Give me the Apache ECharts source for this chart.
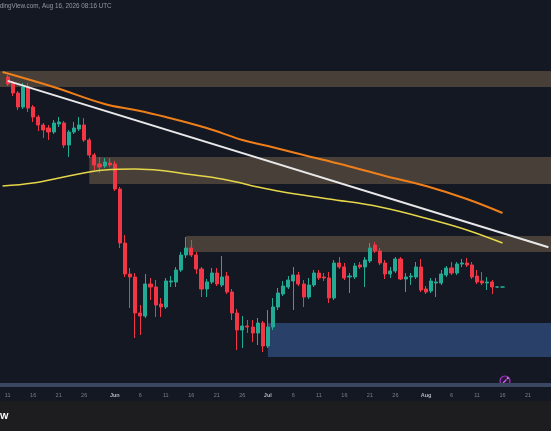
<!DOCTYPE html>
<html><head><meta charset="utf-8">
<script src="https://cdn.jsdelivr.net/npm/echarts@6/dist/echarts.min.js"></script>
<style>html,body{margin:0;padding:0;background:#141823;overflow:hidden}#c{width:551px;height:431px}</style>
</head><body><div id="c"></div>
<script>
// ---- categories: daily candles (first day partly off-screen + empty future days) ----
const firstDay = [2026, 5, 10];
const dayCount = 108;
const categories = [];
(function () {
  const d0 = Date.UTC(firstDay[0], firstDay[1] - 1, firstDay[2]);
  for (let i = 0; i < dayCount; i++) categories.push(new Date(d0 + i * 86400000).toISOString().slice(0, 10));
})();
const monthNames = ['Jan','Feb','Mar','Apr','May','Jun','Jul','Aug','Sep','Oct','Nov','Dec'];
const labelDays = [1, 6, 11, 16, 21, 26];

// ---- candles [open, close, low, high], from 2026-05-10 ('-' = not readable) to 2026-08-16 ----
const candles = [
  '-',
  [3230,3160,3140,3250],[3170,3070,3040,3190],[3070,2930,2900,3090],[2930,3130,2910,3170],
  [3130,2920,2880,3170],[2930,2830,2780,2950],[2830,2750,2690,2850],[2750,2700,2620,2770],
  [2720,2680,2600,2750],[2680,2770,2660,2800],[2760,2780,2730,2830],[2770,2550,2520,2790],
  [2550,2680,2430,2700],[2680,2720,2660,2780],[2710,2750,2690,2830],[2750,2600,2580,2820],
  [2600,2450,2420,2620],[2450,2350,2300,2470],[2360,2330,2270,2430],[2340,2380,2320,2420],
  [2370,2350,2330,2420],
  // June
  [2360,2110,2090,2390],[2110,1570,1520,2130],[1570,1260,1230,1650],[1260,1230,920,1320],
  [1230,870,620,1270],[870,840,650,950],[840,1160,820,1260],[1160,1130,1000,1220],
  [1130,950,830,1200],[960,930,830,1020],[930,1190,910,1220],[1180,1190,1130,1240],
  [1180,1300,1130,1330],[1300,1450,1280,1480],[1450,1520,1420,1630],[1520,1450,1430,1600],
  [1450,1310,1260,1480],[1310,1110,1030,1330],[1110,1180,1030,1210],[1180,1270,1160,1320],
  [1270,1160,1140,1320],[1150,1230,1130,1440],[1240,1080,1060,1280],[1080,870,800,1110],
  [870,700,500,910],[700,740,520,840],[740,730,670,800],[730,670,580,800],
  [670,770,550,820],[770,540,480,790],
  // July
  [540,730,520,900],[730,930,700,1020],[930,1070,900,1120],[1060,1140,1040,1190],
  [1130,1200,1110,1240],[1190,1250,900,1330],[1250,1160,1140,1280],[1160,1030,930,1200],
  [1030,1150,1010,1220],[1150,1270,1130,1300],[1270,1220,1200,1300],[1230,1220,1190,1270],
  [1220,1020,970,1280],[1020,1370,1000,1400],[1370,1330,1310,1430],[1330,1220,1200,1370],
  [1230,1240,1070,1270],[1230,1340,1210,1370],[1350,1330,1310,1380],[1330,1400,1130,1430],
  [1390,1520,1370,1570],[1550,1490,1470,1580],[1490,1370,1350,1520],[1370,1260,1210,1400],
  [1260,1290,1220,1330],[1290,1410,1270,1430],[1410,1210,1200,1430],[1210,1230,1080,1270],
  [1230,1240,1150,1270],[1230,1330,1210,1380],[1330,1100,1080,1410],
  // August
  [1110,1080,1060,1140],[1090,1190,1070,1220],[1170,1180,1030,1220],[1170,1260,1150,1300],
  [1250,1320,1230,1340],[1320,1270,1250,1380],[1270,1360,1250,1380],[1360,1370,1330,1410],
  [1370,1350,1330,1420],[1350,1230,1210,1380],[1240,1180,1160,1300],[1190,1170,1150,1280],
  [1170,1180,1100,1230],[1180,1130,1060,1200],[1130,1130,1120,1140],[1130,1130,1125,1135]
];

// ---- moving-average lines, points [date, value] ----
const orangeMA = [
  ['2026-05-10',3280],['2026-05-20',3130],['2026-05-30',2960],['2026-06-05',2900],
  ['2026-06-11',2830],['2026-06-19',2720],['2026-06-26',2600],['2026-07-01',2540],
  ['2026-07-08',2450],['2026-07-16',2350],['2026-07-24',2240],['2026-08-01',2140],
  ['2026-08-09',2010],['2026-08-16',1870]
];
const yellowMA = [
  ['2026-05-10',2140],['2026-05-16',2170],['2026-05-22',2230],['2026-05-30',2300],
  ['2026-06-05',2310],['2026-06-11',2290],['2026-06-15',2260],['2026-06-22',2210],
  ['2026-06-30',2120],['2026-07-04',2080],['2026-07-13',2010],['2026-07-23',1930],
  ['2026-08-03',1790],['2026-08-09',1700],['2026-08-16',1570]
];
const trendLine = [['2026-05-11',3191],['2026-08-25',1528]];

// ---- zones [start date or null, upper, lower] ----
const zoneTop = [null, 3290, 3130];
const zoneMid = ['2026-05-27', 2430, 2160];
const zoneLow = ['2026-06-15', 1640, 1480];
const zoneBlue = ['2026-07-01', 770, 430];

function zoneItem(z, color) {
  const a = { yAxis: z[1], itemStyle: { color: color } };
  if (z[0]) a.xAxis = z[0];
  return [a, { yAxis: z[2] }];
}
const brown = 'rgba(135,112,82,0.45)';
const blue = 'rgba(62,104,175,0.5)';

const chart = echarts.init(document.getElementById('c'), null, { renderer: 'canvas' });
chart.setOption({
  animation: false,
  backgroundColor: '#141823',
  title: {
    text: 'TradingView.com, Aug 16, 2026 08:16 UTC',
    left: -9.5, top: 3, padding: 0,
    textStyle: { fontSize: 6.3, color: '#9598a1', fontWeight: 'normal', fontFamily: 'Liberation Sans, Arial, sans-serif' }
  },
  grid: { left: -4.76, width: 559.0, top: 0, bottom: 46, containLabel: false },
  xAxis: {
    type: 'category', data: categories, boundaryGap: true,
    axisLine: { show: true, lineStyle: { color: '#394761', width: 4, cap: 'butt' } },
    axisTick: { show: false },
    splitLine: { show: false },
    axisLabel: {
      margin: 7, fontSize: 5.5, color: '#7c7f89', fontFamily: 'Liberation Sans, Arial, sans-serif',
      interval: function (i, v) { return labelDays.indexOf(+v.slice(8, 10)) >= 0; },
      formatter: function (v) {
        const d = +v.slice(8, 10);
        if (d === 1) return '{m|' + monthNames[+v.slice(5, 7) - 1] + '}';
        return String(d);
      },
      rich: { m: { fontSize: 5.5, fontWeight: 'bold', color: '#b2b5be', fontFamily: 'Liberation Sans, Arial, sans-serif' } }
    }
  },
  yAxis: { type: 'value', min: 150, max: 4000, show: false, splitLine: { show: false } },
  series: [
    {
      type: 'candlestick', data: candles, barWidth: '70%', z: 2,
      itemStyle: { color: '#22ab94', color0: '#f23645', borderColor: '#22ab94', borderColor0: '#f23645', borderWidth: 1 },
      markArea: {
        silent: true, z: 1,
        data: [zoneItem(zoneTop, brown), zoneItem(zoneMid, brown), zoneItem(zoneLow, brown), zoneItem(zoneBlue, blue)]
      }
    },
    { type: 'line', data: yellowMA, symbol: 'none', smooth: 0.4, z: 3, lineStyle: { color: '#e6d649', width: 1.5 } },
    { type: 'line', data: orangeMA, symbol: 'none', smooth: 0.4, z: 3, lineStyle: { color: '#ef7f1a', width: 2 } },
    { type: 'line', data: trendLine, symbol: 'none', z: 4, lineStyle: { color: '#e8e8ea', width: 2 } }
  ],
  graphic: [
    { type: 'rect', left: 0, top: 401, shape: { width: 551, height: 30 }, style: { fill: '#1d1d1f' }, z: 10 },
    { type: 'text', left: 0, top: 412, style: { text: 'W', fontSize: 9, fontWeight: 'bold', fill: '#ffffff', fontFamily: 'Liberation Sans, Arial, sans-serif' }, z: 11 },
    { type: 'group', x: 505, y: 381, z: 12, children: [
      { type: 'circle', shape: { cx: 0, cy: 0, r: 5 }, style: { fill: '#2b1538', stroke: '#a237c9', lineWidth: 1.2 } },
      { type: 'line', shape: { x1: -2, y1: 2, x2: 1.5, y2: -1.5 }, style: { stroke: '#c56be6', lineWidth: 1.2 } },
      { type: 'circle', shape: { cx: 2.8, cy: -2.8, r: 1.1 }, style: { fill: '#d47cf2' } }
    ] }
  ]
});
</script></body></html>
